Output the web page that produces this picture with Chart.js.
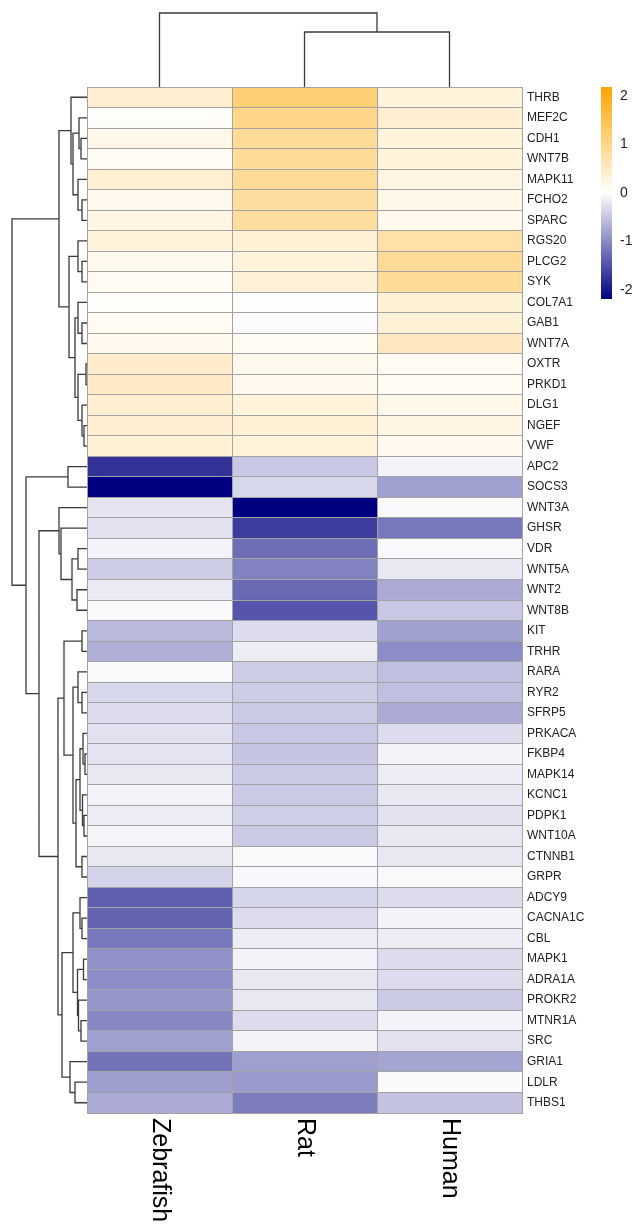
<!DOCTYPE html>
<html><head><meta charset="utf-8">
<script src="https://cdn.jsdelivr.net/npm/chart.js@4.4.1/dist/chart.umd.min.js"></script>
<style>
html,body{margin:0;padding:0;background:#fff;}
#wrap{position:relative;width:634px;height:1224px;overflow:hidden;background:#fff;}
canvas{position:absolute;}
</style></head><body>
<div id="wrap">
<canvas id="colDen" width="436" height="88" style="left:86px;top:0px"></canvas>
<canvas id="rowDen" width="88" height="1028" style="left:0px;top:86px"></canvas>
<canvas id="heat" width="516" height="1138" style="left:86px;top:86px"></canvas>
<canvas id="legend" width="33" height="230" style="left:601px;top:86px"></canvas>
</div>
<script>
// ---------- data ----------
const genes = ['THRB','MEF2C','CDH1','WNT7B','MAPK11','FCHO2','SPARC','RGS20','PLCG2','SYK',
  'COL7A1','GAB1','WNT7A','OXTR','PRKD1','DLG1','NGEF','VWF','APC2','SOCS3',
  'WNT3A','GHSR','VDR','WNT5A','WNT2','WNT8B','KIT','TRHR','RARA','RYR2',
  'SFRP5','PRKACA','FKBP4','MAPK14','KCNC1','PDPK1','WNT10A','CTNNB1','GRPR','ADCY9',
  'CACNA1C','CBL','MAPK1','ADRA1A','PROKR2','MTNR1A','SRC','GRIA1','LDLR','THBS1'];
const species = ['Zebrafish','Rat','Human'];
const zebrafish = [0.40,0.05,0.20,0.08,0.38,0.15,0.25,0.30,0.15,0.10,
  0.05,0.10,0.15,0.45,0.50,0.40,0.40,0.35,-1.75,-2.18,
  -0.22,-0.25,-0.10,-0.43,-0.18,-0.05,-0.60,-0.68,-0.04,-0.34,
  -0.30,-0.26,-0.24,-0.20,-0.10,-0.15,-0.08,-0.20,-0.38,-1.37,
  -1.33,-1.15,-0.94,-0.98,-0.90,-1.03,-0.81,-1.20,-0.83,-0.73];
const rat = [1.17,1.00,0.88,0.88,0.90,0.82,0.82,0.35,0.30,0.33,
  0.02,-0.03,0.10,0.15,0.15,0.30,0.35,0.30,-0.47,-0.34,
  -2.18,-1.66,-1.24,-1.07,-1.28,-1.45,-0.30,-0.15,-0.43,-0.43,
  -0.45,-0.47,-0.50,-0.45,-0.45,-0.42,-0.45,-0.05,-0.06,-0.35,
  -0.30,-0.15,-0.10,-0.20,-0.20,-0.30,-0.10,-0.81,-0.86,-1.11];
const human = [0.30,0.40,0.30,0.30,0.25,0.20,0.15,0.75,0.90,0.88,
  0.35,0.35,0.55,0.10,0.10,0.20,0.25,0.15,-0.10,-0.81,
  -0.05,-1.15,-0.05,-0.20,-0.73,-0.47,-0.80,-0.98,-0.55,-0.55,
  -0.73,-0.30,-0.10,-0.15,-0.20,-0.25,-0.20,-0.20,-0.05,-0.30,
  -0.10,-0.15,-0.30,-0.30,-0.45,-0.10,-0.25,-0.77,-0.04,-0.51];
const colorRange = [-2.18, 2.18];
const legendTicks = [-2, -1, 0, 1, 2];

// dendrograms: [height, left, right]; leaves are row / column indices
const rowTree = [7.5,
  [2.8,
    [1.6, 0, [1.4, [0.8, 1, [0.6, 2, 3]], [0.9, 4, [0.5, 5, 6]]]],
    [1.8, [0.9, 7, [0.5, 8, 9]],
      [1.2, [0.9, 10, [0.5, 11, 12]],
        [0.9, [0.1, 13, 14], [0.5, 15, [0.3, 16, 17]]]]]],
  [6.1,
    [1.9, 18, 19],
    [4.8,
      [2.8, 20, [2.6, 21, [1.5, [0.9, 22, 23], [1.0, 24, 25]]]],
      [2.9,
        [2.3, [0.5, 26, 27],
          [1.4, [0.9, 28, [0.5, 29, 30]],
            [1.1, [0.7, [0.4, 31, [0.2, 32, 33]], [0.45, 34, [0.3, 35, 36]]],
              [0.5, 37, 38]]]],
        [2.5,
          [1.4, [0.7, 39, [0.5, 40, 41]],
            [0.95, [0.35, 42, 43], [0.85, 44, [0.6, 45, 46]]]],
          [1.7, 47, [1.2, 48, 49]]]]]]];
const colTree = [7.4, 0, [5.5, 1, 2]];

// ---------- helpers ----------
const FONT = 'Arial, "Liberation Sans", sans-serif';
Chart.defaults.font.family = FONT;
const ORANGE = [255,165,0], NAVY = [0,0,128];
function cellColor(v){
  let t = v / colorRange[1];
  t = Math.max(-1, Math.min(1, t));
  const c = t >= 0 ? ORANGE : NAVY;
  const a = Math.abs(t);
  const r = Math.round(255 + (c[0]-255)*a), g = Math.round(255 + (c[1]-255)*a), b = Math.round(255 + (c[2]-255)*a);
  return `rgb(${r},${g},${b})`;
}
// build dendrogram polyline (segments separated by null points)
function dendroPoints(tree, vertical){
  const pts = [];
  function walk(node){
    if (typeof node === 'number') return {p: node, h: 0};
    const l = walk(node[1]), r = walk(node[2]), h = node[0];
    const P = (pos, ht) => vertical ? {x: pos, y: ht} : {x: ht, y: pos};
    pts.push(P(l.p, l.h), P(l.p, h), P(r.p, h), P(r.p, r.h), {x: null, y: null});
    return {p: (l.p + r.p) / 2, h};
  }
  walk(tree);
  return pts;
}
const LINE = '#3a3a3a';
const common = {responsive: false, animation: false, events: [],
  plugins: {legend: {display: false}, tooltip: {enabled: false}}};

// ---------- column dendrogram ----------
new Chart(document.getElementById('colDen'), {
  type: 'scatter',
  data: {datasets: [{data: dendroPoints(colTree, true), showLine: true, borderColor: LINE,
    borderWidth: 1.3, pointRadius: 0, spanGaps: false, clip: false}]},
  options: Object.assign({}, common, {
    layout: {padding: {left: 1, right: 0, top: 0, bottom: 1}},
    scales: {
      x: {type: 'linear', display: false, min: -0.5, max: species.length - 0.5},
      y: {type: 'linear', display: false, min: 0, max: 8.7}
    }})
});

// ---------- row dendrogram ----------
new Chart(document.getElementById('rowDen'), {
  type: 'scatter',
  data: {datasets: [{data: dendroPoints(rowTree, false), showLine: true, borderColor: LINE,
    borderWidth: 1.3, pointRadius: 0, spanGaps: false, clip: false}]},
  options: Object.assign({}, common, {
    layout: {padding: {left: 0, right: 1, top: 1, bottom: 1}},
    scales: {
      x: {type: 'linear', display: false, min: 0, max: 8.7, reverse: true},
      y: {type: 'linear', display: false, min: -0.5, max: genes.length - 0.5, reverse: true}
    }})
});

// ---------- heatmap ----------
const seriesValues = [zebrafish, rat, human];
const colLabels = {
  id: 'colLabels',
  afterDraw(chart){
    const {ctx, chartArea, scales} = chart;
    ctx.save();
    ctx.font = '25px ' + FONT;
    ctx.fillStyle = '#000';
    ctx.textAlign = 'left';
    ctx.textBaseline = 'middle';
    species.forEach((s, i) => {
      const x = scales.x.getPixelForValue(i + 0.5);
      ctx.save();
      ctx.translate(x, chartArea.bottom + 5);
      ctx.rotate(Math.PI / 2);
      ctx.fillText(s, 0, 0);
      ctx.restore();
    });
    ctx.restore();
  }
};
const GRID = '#a3a3a3';
new Chart(document.getElementById('heat'), {
  type: 'bar',
  data: {
    labels: genes,
    datasets: species.map((s, c) => ({
      label: s,
      data: genes.map(() => [c, c + 1]),
      backgroundColor: seriesValues[c].map(cellColor),
      borderWidth: 0, barPercentage: 1, categoryPercentage: 1, grouped: false
    }))
  },
  options: Object.assign({}, common, {
    indexAxis: 'y',
    layout: {padding: {left: 1, right: 0, top: 1, bottom: 111}},
    scales: {
      x: {type: 'linear', min: 0, max: species.length, position: 'bottom',
        ticks: {display: false, stepSize: 1},
        grid: {color: GRID, lineWidth: 1, drawTicks: false, z: 1},
        border: {display: true, color: GRID, z: 1},
        afterFit: s => { s.height = 0; s.paddingLeft = 0; s.paddingRight = 0; }},
      y: {type: 'category', position: 'right', offset: true,
        grid: {color: GRID, lineWidth: 1, drawTicks: false, offset: true, z: 1},
        border: {display: true, color: GRID, z: 1},
        ticks: {padding: 5, color: '#222', font: {size: 12, family: FONT}, autoSkip: false},
        afterFit: s => { s.width = 80; s.paddingTop = 0; s.paddingBottom = 0; }}
    }}),
  plugins: [colLabels]
});

// ---------- colour key ----------
new Chart(document.getElementById('legend'), {
  type: 'bar',
  data: {labels: [''], datasets: [{
    data: [colorRange.slice()],
    backgroundColor: (ctx) => {
      const chart = ctx.chart, area = chart.chartArea;
      if (!area) return '#fff';
      const y = chart.scales.y;
      const g = chart.ctx.createLinearGradient(0, y.getPixelForValue(colorRange[0]), 0, y.getPixelForValue(colorRange[1]));
      g.addColorStop(0, cellColor(colorRange[0]));
      g.addColorStop(0.5, cellColor(0));
      g.addColorStop(1, cellColor(colorRange[1]));
      return g;
    },
    borderWidth: 0, barPercentage: 1, categoryPercentage: 1
  }]},
  options: Object.assign({}, common, {
    layout: {padding: {left: 0, right: 0, top: 1, bottom: 17}},
    scales: {
      x: {display: false},
      y: {type: 'linear', position: 'right', min: colorRange[0], max: colorRange[1],
        afterBuildTicks: s => { s.ticks = legendTicks.map(v => ({value: v})); },
        grid: {display: false, drawTicks: false}, border: {display: false},
        ticks: {padding: 8, color: '#222', font: {size: 14, family: FONT}},
        afterFit: s => { s.width = 22; s.paddingTop = 0; s.paddingBottom = 0; }}
    }})
});
</script>
</body></html>
